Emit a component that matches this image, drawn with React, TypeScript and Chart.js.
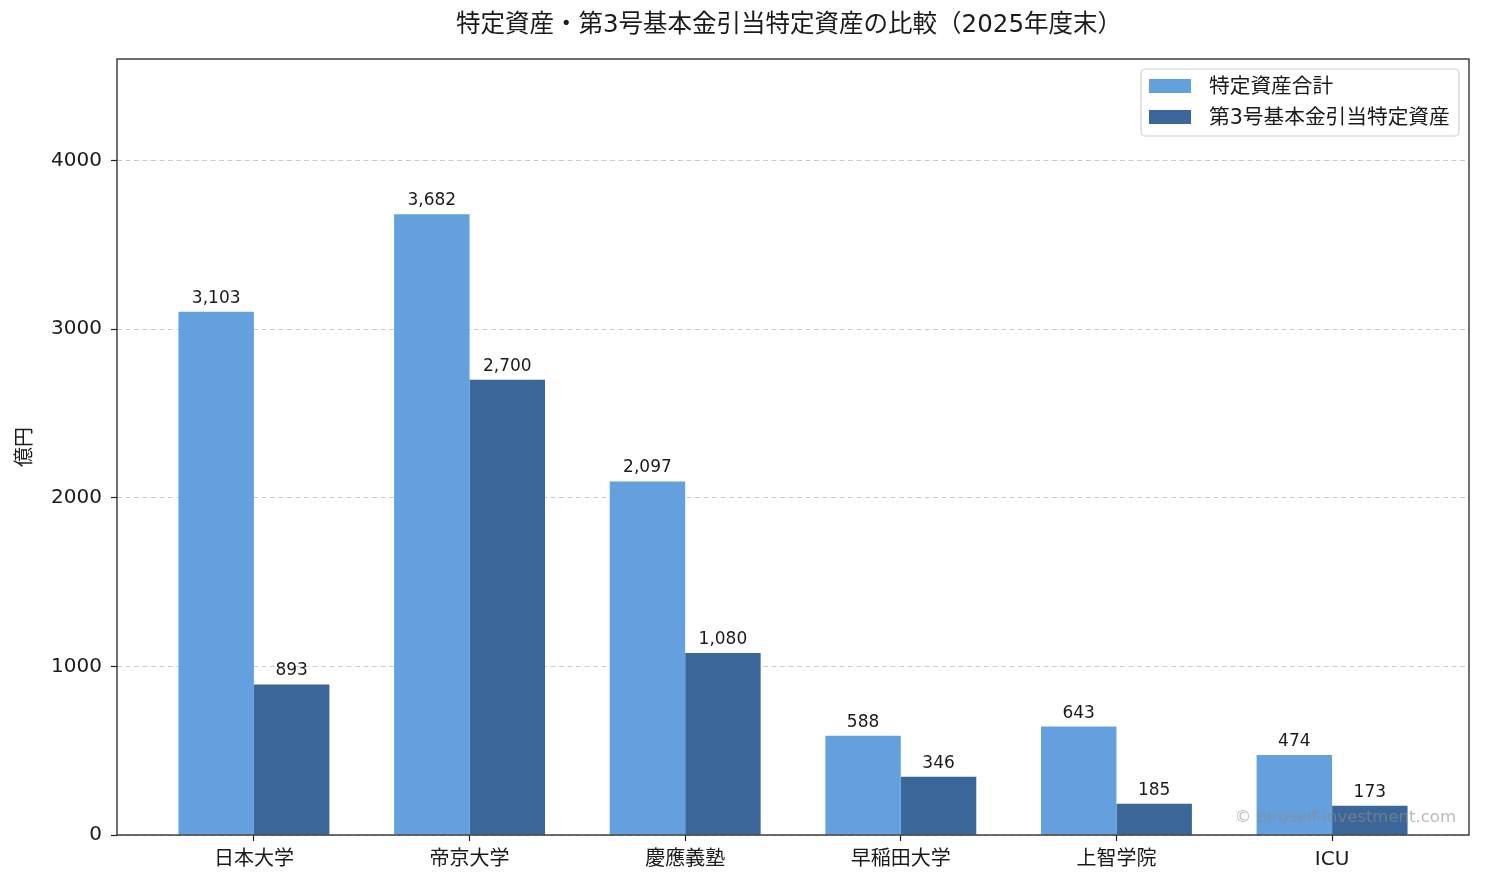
import { useEffect, useRef } from 'react';
import { Chart, registerables } from 'chart.js';

Chart.register(...registerables);

const FONT = '"DejaVu Sans", "Noto Sans CJK JP", sans-serif';

const chartTitle = '特定資産・第3号基本金引当特定資産の比較（2025年度末）';
const yAxisLabel = '億円';
const watermark = '© piroself-investment.com';

const universities = ['日本大学', '帝京大学', '慶應義塾', '早稲田大学', '上智学院', 'ICU'];
const seriesNames = ['特定資産合計', '第3号基本金引当特定資産'];
const specificAssets = [3103, 3682, 2097, 588, 643, 474];
const basicFund3Assets = [893, 2700, 1080, 346, 185, 173];
const yTicks = [0, 1000, 2000, 3000, 4000];

const LIGHT = '#63a0dd';
const DARK = '#3b6699';
const TEXT = '#1a1a1a';

const overlayPlugin = {
  id: 'overlay',
  afterDatasetsDraw(chart: any) {
    const ctx = chart.ctx;
    ctx.save();
    ctx.fillStyle = TEXT;
    ctx.font = `17px ${FONT}`;
    ctx.textAlign = 'center';
    ctx.textBaseline = 'alphabetic';
    chart.data.datasets.forEach((ds: any, di: number) => {
      const meta = chart.getDatasetMeta(di);
      meta.data.forEach((bar: any, i: number) => {
        const v = ds.data[i].y as number;
        ctx.fillText(v.toLocaleString('en-US'), bar.x, bar.y - 9);
      });
    });
    ctx.restore();
  },
  afterDraw(chart: any) {
    const ctx = chart.ctx;
    const { left, right, top, bottom } = chart.chartArea;
    ctx.save();

    // watermark
    ctx.font = `16.5px ${FONT}`;
    ctx.fillStyle = 'rgba(140,140,140,0.6)';
    ctx.textAlign = 'right';
    ctx.textBaseline = 'middle';
    ctx.fillText(watermark, right - 13, bottom - 17);

    // axes frame
    ctx.strokeStyle = '#222';
    ctx.lineWidth = 1.3;
    ctx.strokeRect(left, top, right - left, bottom - top);

    // title
    ctx.fillStyle = TEXT;
    ctx.font = `24.5px ${FONT}`;
    ctx.textAlign = 'center';
    ctx.textBaseline = 'middle';
    ctx.fillText(chartTitle, (left + right) / 2 - 4, 26);

    // y axis label
    ctx.save();
    ctx.translate(26, (top + bottom) / 2);
    ctx.rotate(-Math.PI / 2);
    ctx.font = `20px ${FONT}`;
    ctx.fillText(yAxisLabel, 0, 0);
    ctx.restore();

    // legend
    const lx = right - 328;
    const ly = top + 10;
    const lw = 318;
    const lh = 67;
    ctx.beginPath();
    ctx.roundRect(lx, ly, lw, lh, 4);
    ctx.fillStyle = 'rgba(255,255,255,0.85)';
    ctx.fill();
    ctx.strokeStyle = '#d0d0d0';
    ctx.lineWidth = 1.2;
    ctx.stroke();
    ctx.font = `20.7px ${FONT}`;
    ctx.textAlign = 'left';
    ctx.textBaseline = 'middle';
    chart.data.datasets.forEach((ds: any, i: number) => {
      const cy = ly + 17 + i * 31;
      ctx.fillStyle = ds.backgroundColor;
      ctx.fillRect(lx + 8, cy - 7, 42, 14);
      ctx.fillStyle = TEXT;
      ctx.fillText(ds.label, lx + 68, cy + 1.5);
    });

    ctx.restore();
  },
};

export default function App() {
  const canvasRef = useRef<HTMLCanvasElement>(null);
  const chartRef = useRef<Chart | null>(null);

  useEffect(() => {
    if (!canvasRef.current) return;
    if (chartRef.current) chartRef.current.destroy();

    const yMax = Math.max(...specificAssets) * 1.25;

    chartRef.current = new Chart(canvasRef.current, {
      type: 'bar',
      data: {
        datasets: [
          {
            label: seriesNames[0],
            data: specificAssets.map((v, i) => ({ x: i, y: v })),
            backgroundColor: LIGHT,
            borderWidth: 0,
          },
          {
            label: seriesNames[1],
            data: basicFund3Assets.map((v, i) => ({ x: i, y: v })),
            backgroundColor: DARK,
            borderWidth: 0,
          },
        ],
      } as any,
      options: {
        animation: false,
        responsive: true,
        maintainAspectRatio: false,
        categoryPercentage: 0.7,
        barPercentage: 1.0,
        layout: { padding: { top: 59, right: 16, left: 0, bottom: 0 } },
        plugins: {
          legend: { display: false },
          title: { display: false },
          tooltip: { enabled: false },
        },
        scales: {
          x: {
            type: 'linear',
            min: -0.635,
            max: universities.length - 1 + 0.635,
            offset: false,
            afterBuildTicks: (axis: any) => {
              axis.ticks = universities.map((_, i) => ({ value: i }));
            },
            afterFit: (axis: any) => {
              axis.height = 50;
            },
            ticks: {
              autoSkip: false,
              maxRotation: 0,
              padding: 7,
              color: TEXT,
              font: { family: FONT, size: 20 },
              callback: (v: any) => universities[Number(v)] ?? '',
            },
            grid: {
              display: true,
              offset: false,
              drawOnChartArea: false,
              drawTicks: true,
              tickLength: 6,
              tickColor: '#222',
              tickWidth: 1.2,
            },
            border: { display: false },
          },
          y: {
            min: 0,
            max: yMax,
            afterBuildTicks: (axis: any) => {
              axis.ticks = yTicks.map((v) => ({ value: v }));
            },
            afterFit: (axis: any) => {
              axis.width = 117;
            },
            ticks: {
              padding: 9,
              color: TEXT,
              font: { family: FONT, size: 20 },
              callback: (v: any) => String(v),
            },
            grid: {
              color: 'rgba(170,170,170,0.6)',
              lineWidth: 1,
              tickLength: 6,
              tickColor: '#222',
              tickWidth: 1.2,
              tickBorderDash: [],
            } as any,
            border: { display: false, dash: [5, 3.5] } as any,
          },
        },
      } as any,
      plugins: [overlayPlugin],
    });

    return () => {
      chartRef.current?.destroy();
      chartRef.current = null;
    };
  }, []);

  return (
    <div style={{ position: 'absolute', left: 0, top: 0, width: 1485, height: 885, background: '#fff' }}>
      <canvas ref={canvasRef} />
    </div>
  );
}
